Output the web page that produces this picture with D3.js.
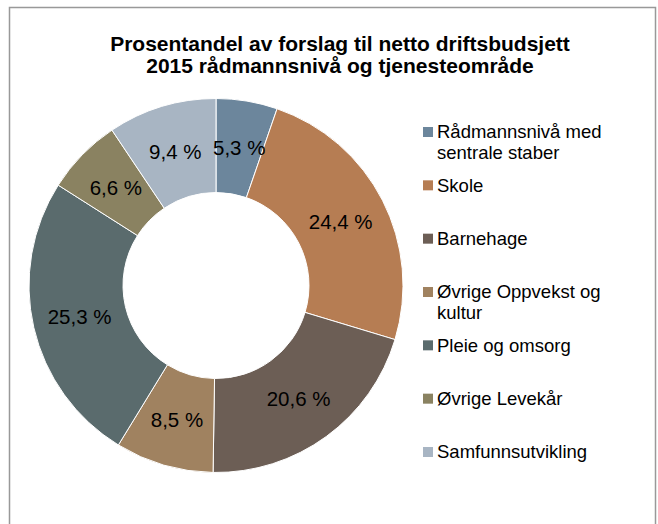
<!DOCTYPE html>
<html><head><meta charset="utf-8">
<script src="https://cdn.jsdelivr.net/npm/d3@7"></script>
<style>body{margin:0;background:#fff}svg{display:block}</style>
</head><body>
<svg id="c" width="658" height="524"></svg>
<script>
const categories = ["Rådmannsnivå med sentrale staber","Skole","Barnehage","Øvrige Oppvekst og kultur","Pleie og omsorg","Øvrige Levekår","Samfunnsutvikling"];
const legendLines = [["Rådmannsnivå med","sentrale staber"],["Skole"],["Barnehage"],["Øvrige Oppvekst og","kultur"],["Pleie og omsorg"],["Øvrige Levekår"],["Samfunnsutvikling"]];
const values = [5.3,24.4,20.6,8.5,25.3,6.6,9.4];
const colors = ["#6C869C","#B67D53","#6C5E55","#A08260","#5A6B6D","#8A8261","#A8B5C3"];
const titleLines = ["Prosentandel av forslag til netto driftsbudsjett","2015 rådmannsnivå og tjenesteområde"];

const svg = d3.select("#c");
const font = "'Liberation Sans', Arial, sans-serif";
svg.append("rect").attr("x",9.5).attr("y",7.5).attr("width",646).attr("height",530)
  .attr("fill","#fff").attr("stroke","#999").attr("stroke-width",1.5);

svg.append("g").selectAll("text").data(titleLines).join("text")
  .attr("x",340).attr("y",(d,i)=>51+i*22).attr("text-anchor","middle")
  .attr("font-family",font).attr("font-weight","bold").attr("font-size",21).attr("fill","#000").text(d=>d);

const cx=216, cy=285.5, R=187, r=93;
const color = d3.scaleOrdinal().domain(categories).range(colors);
const pie = d3.pie().value(d=>d.v).sort(null);
const data = pie(categories.map((c,i)=>({c, v:values[i]})));
const arc = d3.arc().innerRadius(r).outerRadius(R);
const labelArc = d3.arc().innerRadius((r+R)/2).outerRadius((r+R)/2);
const g = svg.append("g").attr("transform",`translate(${cx},${cy})`);
g.selectAll("path").data(data).join("path").attr("d",arc)
  .attr("fill",d=>color(d.data.c)).attr("stroke","#fff").attr("stroke-width",1);
const fmt = v => d3.format(".1f")(v).replace(".",",")+" %";
g.selectAll("text").data(data).join("text")
  .attr("transform",d=>`translate(${labelArc.centroid(d)})`)
  .attr("text-anchor","middle").attr("dy","0.35em")
  .attr("font-family",font).attr("font-size",20.5).attr("fill","#000")
  .text(d=>fmt(d.data.v));

const ly = d3.scalePoint().domain(categories).range([132,452]);
const lg = svg.append("g");
const items = lg.selectAll("g").data(categories).join("g")
  .attr("transform",d=>`translate(423,${ly(d)})`);
items.append("rect").attr("x",0).attr("y",-5).attr("width",10).attr("height",10)
  .attr("fill",d=>color(d));
items.append("text").attr("font-family",font).attr("font-size",18.5).attr("fill","#000")
  .selectAll("tspan").data((d,i)=>legendLines[i]).join("tspan")
  .attr("x",14).attr("y",(d,i)=>i*21).attr("dy","0.35em").text(d=>d);
</script>
</body></html>
